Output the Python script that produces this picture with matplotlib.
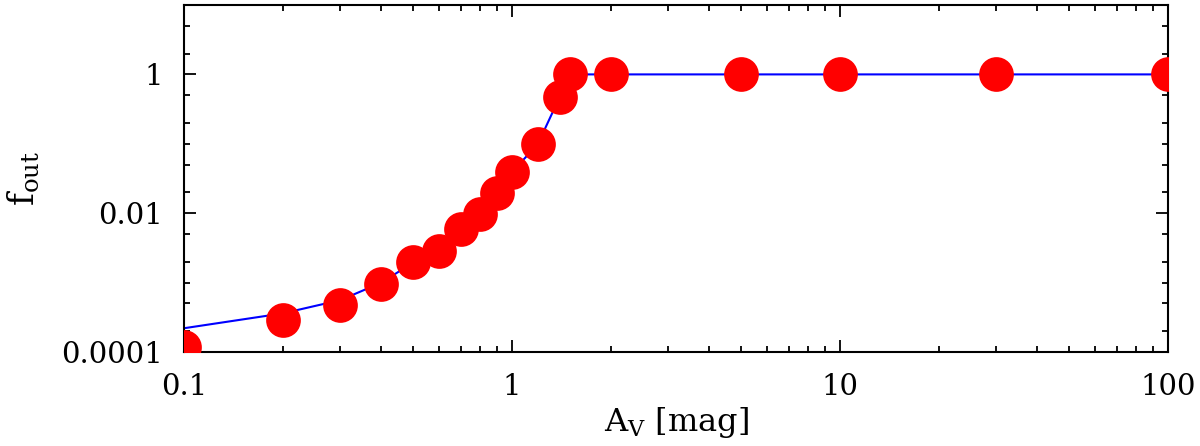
import matplotlib
matplotlib.use("Agg")
import matplotlib.pyplot as plt
from matplotlib.ticker import FixedLocator, NullFormatter, LogLocator

# marker data
av_points = [0.1, 0.2, 0.3, 0.4, 0.5, 0.6, 0.7, 0.8, 0.9, 1.0, 1.2, 1.4, 1.5, 2, 5, 10, 30, 100]
fout_points = [1.2e-4, 2.9e-4, 4.8e-4, 9.7e-4, 1.95e-3, 2.9e-3, 5.9e-3, 9.7e-3, 0.0195, 0.039,
               0.1, 0.48, 1.0, 1.0, 1.0, 1.0, 1.0, 1.0]

# model curve
av_line = [0.1, 0.2, 0.3, 0.4, 0.5, 0.6, 0.7, 0.8, 0.9, 1.0, 1.2, 1.4, 1.5, 2, 5, 10, 30, 100]
fout_line = [2.2e-4, 3.6e-4, 5.6e-4, 1.0e-3, 1.95e-3, 2.9e-3, 5.9e-3, 9.7e-3, 0.0195, 0.039,
             0.1, 0.48, 1.0, 1.0, 1.0, 1.0, 1.0, 1.0]

ytick_vals = [1e-4, 1e-2, 1]
ytick_labels = ["0.0001", "0.01", "1"]
xtick_vals = [0.1, 1, 10, 100]
xtick_labels = ["0.1", "1", "10", "100"]

plt.rcParams['font.family'] = ['DejaVu Serif']
plt.rcParams['mathtext.fontset'] = 'dejavuserif'

fig = plt.figure(figsize=(12, 4.46), dpi=100)
ax = fig.add_axes([184/1200, 1-352/446, (1168-184)/1200, (352-5)/446])

ax.plot(av_line, fout_line, color='#0000ff', lw=1.5, zorder=2)
ax.plot(av_points, fout_points, 'o', color='#ff0000', ms=25, mec='none', zorder=3)

ax.set_xscale('log')
ax.set_yscale('log')
ax.set_xlim(0.1, 100)
ax.set_ylim(1e-4, 10)

ax.set_xticks(xtick_vals)
ax.set_xticklabels(xtick_labels)
ax.set_yticks(ytick_vals)
ax.set_yticklabels(ytick_labels)
ax.xaxis.set_minor_locator(LogLocator(base=10, subs=range(2, 10)))
ax.xaxis.set_minor_formatter(NullFormatter())
ax.yaxis.set_minor_locator(FixedLocator([2e-4, 5e-4, 1e-3, 2e-3, 5e-3, 2e-2, 5e-2, 0.1, 0.2, 0.5, 2, 5]))
ax.yaxis.set_minor_formatter(NullFormatter())

ax.tick_params(which='both', direction='in', top=True, right=True, width=1.3, labelsize=21, pad=15)
ax.tick_params(which='major', length=8.6)
ax.tick_params(which='minor', length=4.5)
for s in ax.spines.values():
    s.set_linewidth(1.5)

ax.set_xlabel(r'$\mathrm{A_V}$ [mag]', fontsize=23, labelpad=3)
ax.set_ylabel(r'$\mathrm{f_{out}}$', fontsize=25, labelpad=14)

fig.savefig('out.png', dpi=100)
